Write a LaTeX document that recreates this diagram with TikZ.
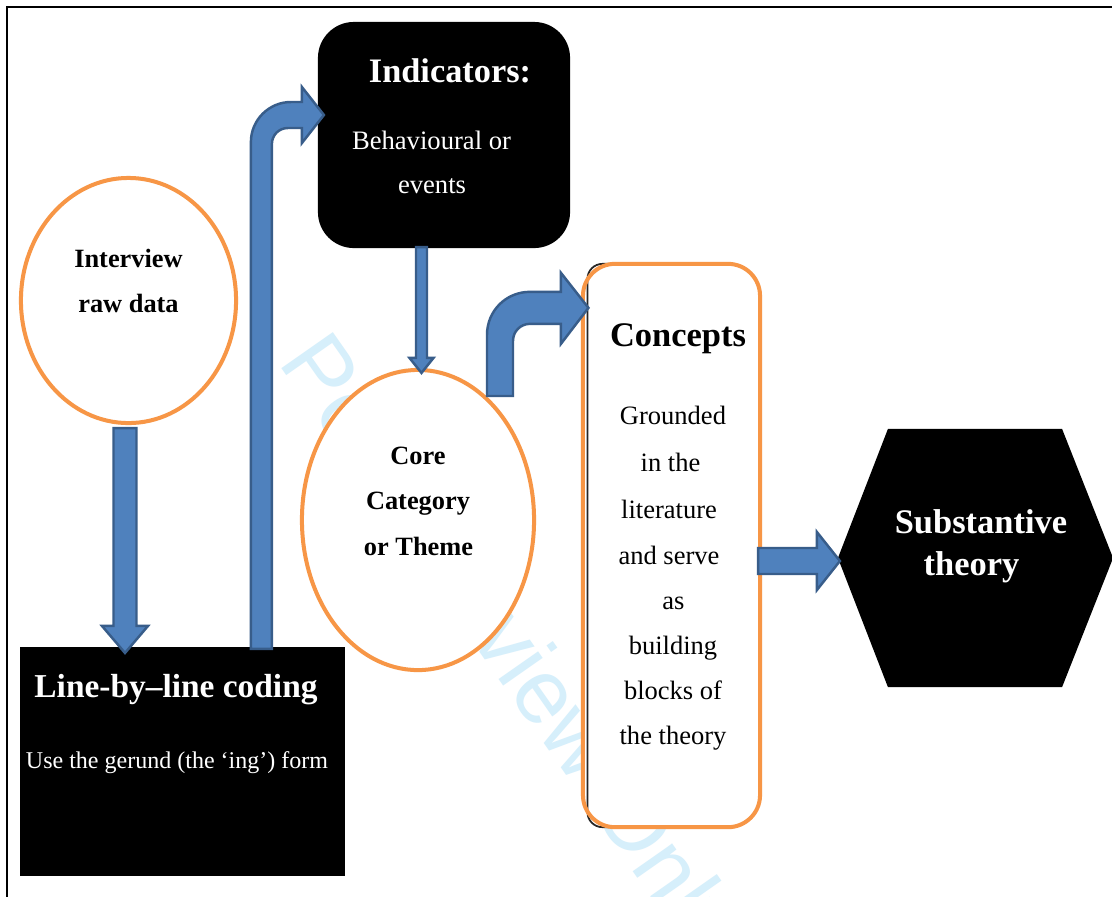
\documentclass[tikz,border=0pt]{standalone}
\usepackage{fontspec}
\setmainfont{Liberation Serif}
\newfontfamily\wmfont{Liberation Sans}
\usetikzlibrary{calc,shapes.geometric}
\definecolor{orangeC}{RGB}{247,150,70}
\definecolor{blueF}{RGB}{79,129,189}
\definecolor{blueD}{RGB}{56,93,138}
\definecolor{wmblue}{RGB}{214,239,251}
\newcommand{\fs}[1]{\fontsize{#1}{#1}\selectfont}
\newcommand{\arrowdown}[5]{%
  \draw[blockarrow] ($(#1)+(-#3,0)$) -- ($(#2)+(-#3,-#5)$) -- ($(#2)+(-#4,-#5)$) -- (#2) -- ($(#2)+(#4,-#5)$) -- ($(#2)+(#3,-#5)$) -- ($(#1)+(#3,0)$) -- cycle;}
\newcommand{\arrowright}[5]{%
  \draw[blockarrow] ($(#1)+(0,-#3)$) -- ($(#2)+(-#5,-#3)$) -- ($(#2)+(-#5,-#4)$) -- (#2) -- ($(#2)+(-#5,#4)$) -- ($(#2)+(-#5,#3)$) -- ($(#1)+(0,#3)$) -- cycle;}
\begin{document}
\begin{tikzpicture}[x=0.01cm,y=-0.01cm,
  orangeshape/.style={draw=orangeC, line width=1.14pt, fill=white, inner sep=0, outer sep=0},
  blackbox/.style={fill=black, inner sep=0, outer sep=0},
  blockarrow/.style={fill=blueF, draw=blueD, line width=0.7pt, line join=miter},
  wl/.style={inner sep=0, anchor=base, text=white},
  bl/.style={inner sep=0, anchor=base, text=black}]
\useasboundingbox (0,0) rectangle (1112,896);
\fill[white] (0,0) rectangle (1112,896);

% watermark
\node[inner sep=0, anchor=base west, rotate=-55, text=wmblue, font=\wmfont\fs{26}] (wmark) at (277,362) {Peer Review Only};

% frame
\draw[line width=0.6pt] (7,900) -- (7,7) -- (1120,7);

% shapes
\node[orangeshape, ellipse, minimum width=2.15cm, minimum height=2.45cm] (interview) at (128.5,300.5) {};
\node[blackbox, minimum width=3.25cm, minimum height=2.29cm] (linebox) at (182.5,761.5) {};
\node[blackbox, rounded corners=0.36cm, minimum width=2.52cm, minimum height=2.26cm] (indic) at (444,135) {};
\node[orangeshape, ellipse, minimum width=2.32cm, minimum height=3.0cm] (core) at (418,520) {};
\node[fill=white, inner sep=0, outer sep=0, rounded corners=0.32cm, minimum width=1.77cm, minimum height=5.63cm] (concepts) at (671.5,545.5) {};
\draw[line width=0.5pt, black!85, rounded corners=0.15cm] ($(concepts.north west)+(40,0)$) -- ($(concepts.north west)+(4.5,0)$) -- ($(concepts.south west)+(4.5,0)$) -- ($(concepts.south west)+(40,0)$);
\draw[draw=orangeC, line width=1.14pt, rounded corners=0.32cm] (concepts.north west) rectangle (concepts.south east);
\node[inner sep=0, outer sep=0, minimum width=2.75cm, minimum height=2.58cm] (subst) at (975.5,558) {};
\fill[black] (subst.west) -- ($(subst.north west)+(50,0)$) -- ($(subst.north east)+(-51,0)$) -- (subst.east) -- ($(subst.south east)+(-51,0)$) -- ($(subst.south west)+(50,0)$) -- cycle;

% arrow 1
\coordinate (a1s) at ($(interview.south)+(-3.5,5)$);
\coordinate (a1t) at ($(a1s |- linebox.north)+(0,6)$);
\arrowdown{a1s}{a1t}{11.5}{23}{27}

% arrow 2
\coordinate (a2s) at ($(linebox.north west)+(241.5,2)$);
\coordinate (a2t) at ($(indic.west)+(6,-20)$);
\coordinate (a2c) at (a2s |- a2t);
\draw[blockarrow] ($(a2s)+(-10.5,0)$) -- ($(a2c)+(-10.5,27)$) .. controls ($(a2c)+(-10.5,5)$) and ($(a2c)+(7.5,-13)$) .. ($(a2c)+(29.5,-13)$) -- ($(a2t)+(-22,-13)$) -- ($(a2t)+(-22,-28)$) -- (a2t) -- ($(a2t)+(-22,28)$) -- ($(a2t)+(-22,13)$) -- ($(a2c)+(26.5,13)$) .. controls ($(a2c)+(17.5,13)$) and ($(a2c)+(10.5,20)$) .. ($(a2c)+(10.5,29)$) -- ($(a2s)+(10.5,0)$) -- cycle;

% arrow 3
\coordinate (a3s) at ($(indic.south)+(-22.5,-1)$);
\coordinate (a3t) at ($(a3s |- core.north)+(0,3)$);
\arrowdown{a3s}{a3t}{5.5}{12}{15}

% arrow 4
\coordinate (a4s) at ($(core.center)+(82,-124)$);
\coordinate (a4t) at ($(concepts.north west)+(5.5,44)$);
\coordinate (a4c) at (a4s |- a4t);
\draw[blockarrow] ($(a4s)+(-13,0)$) -- ($(a4c)+(-13,27)$) .. controls ($(a4c)+(-13,3)$) and ($(a4c)+(6,-16)$) .. ($(a4c)+(30,-16)$) -- ($(a4t)+(-27.5,-16)$) -- ($(a4t)+(-27.5,-35)$) -- (a4t) -- ($(a4t)+(-27.5,36)$) -- ($(a4t)+(-27.5,16)$) -- ($(a4c)+(30,16)$) .. controls ($(a4c)+(20.6,16)$) and ($(a4c)+(13,23.4)$) .. ($(a4c)+(13,33)$) -- ($(a4s)+(13,0)$) -- cycle;

% arrow 5
\coordinate (a5s) at ($(concepts.east)+(-2,15.5)$);
\coordinate (a5t) at ($(subst.west)+(2,3)$);
\arrowright{a5s}{a5t}{13}{29}{23}

% texts
\node[bl, font=\bfseries\fs{7.5}] (t1) at (128.5,267) {Interview};
\node[bl, font=\bfseries\fs{7.5}] (t2) at (128.5,312) {raw data};
\node[wl, font=\bfseries\fs{9.5}] (t3) at (176,697) {Line-by–line coding};
\node[wl, font=\fs{6.83}] (t4) at (177,768) {Use the gerund (the ‘ing’) form};
\node[wl, font=\bfseries\fs{9.76}] (t5) at (450,82) {Indicators:};
\node[wl, font=\fs{7.57}] (t6) at (431.5,149) {Behavioural or};
\node[wl, font=\fs{7.57}] (t7) at (432,193) {events};
\node[bl, font=\bfseries\fs{7.5}] (t8) at (418,464) {Core};
\node[bl, font=\bfseries\fs{7.5}] (t9) at (418,509.5) {Category};
\node[bl, font=\bfseries\fs{7.5}] (t10) at (418.5,555) {or Theme};
\node[bl, font=\bfseries\fs{9.8}] (t11) at (678,346) {Concepts};
\node[bl, font=\fs{7.54}] (t12) at (673,424) {Grounded};
\node[bl, font=\fs{7.54}] (t13) at (670.5,471.5) {in the};
\node[bl, font=\fs{7.54}] (t14) at (669,518) {literature};
\node[bl, font=\fs{7.54}] (t15) at (669,564) {and serve};
\node[bl, font=\fs{7.54}] (t16) at (673.5,609.5) {as};
\node[bl, font=\fs{7.54}] (t17) at (673,654) {building};
\node[bl, font=\fs{7.54}] (t18) at (673,699) {blocks of};
\node[bl, font=\fs{7.54}] (t19) at (673,744) {the theory};
\node[wl, font=\bfseries\fs{9.8}] (t20) at (981,533) {Substantive};
\node[wl, font=\bfseries\fs{9.8}] (t21) at (971.5,575) {theory};
\end{tikzpicture}
\end{document}
